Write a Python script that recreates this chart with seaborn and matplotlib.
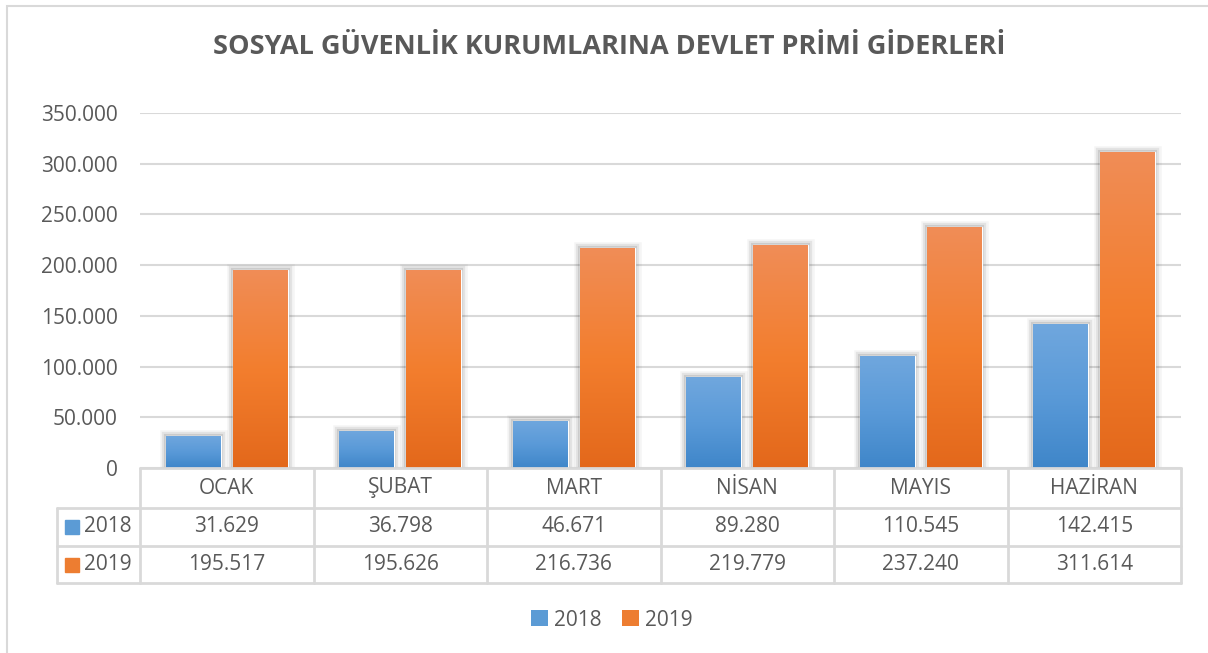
import matplotlib
matplotlib.use("Agg")
import matplotlib.pyplot as plt
import matplotlib.patheffects as pe
from matplotlib.patches import Rectangle, Patch
from matplotlib.lines import Line2D
from matplotlib.colors import LinearSegmentedColormap
import numpy as np
import pandas as pd
import seaborn as sns

# Data
months = ["OCAK", "ŞUBAT", "MART", "NİSAN", "MAYIS", "HAZİRAN"]
years = ["2018", "2019"]
values_2018 = [31629, 36798, 46671, 89280, 110545, 142415]
values_2019 = [195517, 195626, 216736, 219779, 237240, 311614]
y_ticks = [0, 50000, 100000, 150000, 200000, 250000, 300000, 350000]
title = "SOSYAL GÜVENLİK KURUMLARINA DEVLET PRİMİ GİDERLERİ"

df = pd.DataFrame({
    "Ay": months * 2,
    "Yıl": [years[0]] * len(months) + [years[1]] * len(months),
    "Değer": values_2018 + values_2019,
})

def fmt(v):
    return f"{v:,}".replace(",", ".")

sns.set_theme(style="white")
plt.rcParams["font.family"] = ["Open Sans", "DejaVu Sans"]
text_color = "#595959"
line_color = "#d9d9d9"

W, H = 1208, 653
fig = plt.figure(figsize=(W / 100, H / 100), dpi=100)
ax = fig.add_axes([140 / W, 1 - 468 / H, 1041 / W, 355 / H])

palette = {"2018": "#5b9bd5", "2019": "#ed7d31"}
sns.barplot(data=df, x="Ay", y="Değer", hue="Yıl", order=months,
            hue_order=years, palette=palette, width=0.77, gap=0.18,
            saturation=1, legend=False, ax=ax)

# gradient fill + soft shadow on bars
grads = {
    "2018": ["#3f86c9", "#5a9ad8", "#70a7de"],
    "2019": ["#e3681b", "#f37e2e", "#f08d57"],
}
grad = np.linspace(0, 1, 256).reshape(-1, 1)
for year, cont in zip(years, ax.containers):
    cmap = LinearSegmentedColormap.from_list(year, grads[year])
    for bar in cont:
        bar.set_path_effects([
            pe.Stroke(linewidth=9, foreground="black", alpha=0.04),
            pe.Stroke(linewidth=6, foreground="black", alpha=0.07),
            pe.Stroke(linewidth=3, foreground="black", alpha=0.10),
            pe.Normal(),
        ])
        x0, w, h = bar.get_x(), bar.get_width(), bar.get_height()
        im = ax.imshow(grad, extent=[x0, x0 + w, 0, h], aspect="auto",
                       cmap=cmap, origin="lower",
                       zorder=bar.get_zorder() + 0.01)
        im.set_clip_path(bar)

ax.set_xlim(-0.5, len(months) - 0.5)
ax.set_ylim(0, y_ticks[-1])
ax.set_yticks(y_ticks)
ax.set_yticklabels([fmt(v) for v in y_ticks])
ax.set_xticks([])
ax.set_xlabel("")
ax.set_ylabel("")
ax.set_axisbelow(True)
ax.grid(axis="y", color=line_color, linewidth=1.5)
ax.grid(axis="x", visible=False)
for s in ax.spines.values():
    s.set_visible(False)
ax.tick_params(axis="y", length=0, pad=16, labelsize=15, labelcolor=text_color)

# data table under the chart
tr = ax.transAxes
left_col = -83 / 1041
rows = [0, -40 / 355, -78 / 355, -115 / 355]
n = len(months)

def hline(x0, x1, y):
    ax.add_line(Line2D([x0, x1], [y, y], transform=tr, color=line_color,
                       lw=2, clip_on=False))

def vline(x, y0, y1):
    ax.add_line(Line2D([x, x], [y0, y1], transform=tr, color=line_color,
                       lw=2, clip_on=False))

hline(0, 1, rows[0])
for y in rows[1:]:
    hline(left_col, 1, y)
for i in range(n + 1):
    vline(i / n, rows[0], rows[-1])
vline(left_col, rows[1], rows[-1])

for i, m in enumerate(months):
    xc = (i + 0.5) / n
    ax.text(xc, (rows[0] + rows[1]) / 2, m, transform=tr, ha="center",
            va="center", fontsize=15, color=text_color)
    ax.text(xc, (rows[1] + rows[2]) / 2, fmt(values_2018[i]), transform=tr,
            ha="center", va="center", fontsize=15, color=text_color)
    ax.text(xc, (rows[2] + rows[3]) / 2, fmt(values_2019[i]), transform=tr,
            ha="center", va="center", fontsize=15, color=text_color)

for k, year in enumerate(years):
    yc = (rows[k + 1] + rows[k + 2]) / 2
    ax.plot([(72 - 140) / 1041], [yc], marker="s", markersize=10,
            color=palette[year], transform=tr, clip_on=False)
    ax.text((84 - 140) / 1041, yc, year, transform=tr, ha="left",
            va="center", fontsize=15, color=text_color)

# title
fig.text(609 / W, 1 - 47 / H, title, ha="center", va="center",
         fontsize=19.5, fontweight="bold", color=text_color)

# legend
handles = [Patch(facecolor=palette[y], edgecolor="none", label=y) for y in years]
fig.legend(handles=handles, loc="center", bbox_to_anchor=(612 / W, 1 - 620 / H),
           ncol=2, frameon=False, fontsize=15, handlelength=0.8,
           handleheight=0.8, handletextpad=0.3, columnspacing=1.0,
           labelcolor=text_color)

# chart border
fig.add_artist(Rectangle((7 / W, -0.05), 1.05, 1 - 6 / H + 0.05,
                         transform=fig.transFigure, fill=False,
                         edgecolor=line_color, linewidth=1.5))

fig.savefig("out.png", dpi=100)
